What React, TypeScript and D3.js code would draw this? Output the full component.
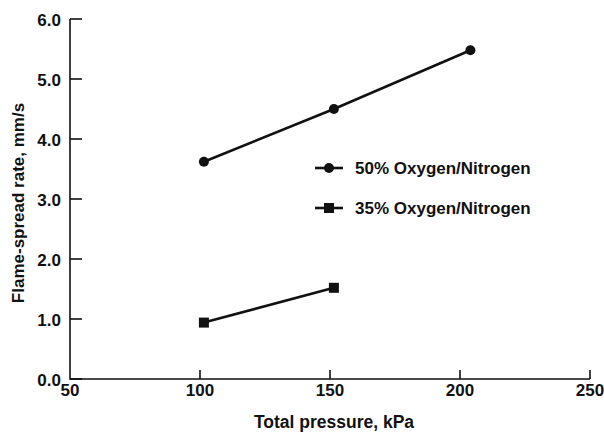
import * as d3 from "d3";
import { useEffect, useRef } from "react";

// Flame-spread rate vs total pressure
const pressure50 = [101.5, 151.5, 204];
const rate50 = [3.62, 4.5, 5.48];
const pressure35 = [101.5, 151.5];
const rate35 = [0.94, 1.52];

const seriesNames = ["50% Oxygen/Nitrogen", "35% Oxygen/Nitrogen"];
const xTicks = [50, 100, 150, 200, 250];
const yTicks = [0, 1, 2, 3, 4, 5, 6];

const width = 604;
const height = 435;
const font = "'Liberation Sans', Arial, sans-serif";

const App = () => {
  const ref = useRef<SVGSVGElement | null>(null);

  useEffect(() => {
    if (!ref.current) return;
    const svg = d3.select(ref.current);
    svg.selectAll("*").remove();

    const x = d3.scaleLinear().domain([50, 250]).range([70, 590]);
    const y = d3.scaleLinear().domain([0, 6]).range([379, 19]);

    const g = svg.append("g").attr("font-family", font).attr("font-weight", "bold");

    // axes frame (left + bottom)
    g.append("path")
      .attr("d", `M${x(50)},${y(6)}V${y(0)}H${x(250)}`)
      .attr("fill", "none")
      .attr("stroke", "#111")
      .attr("stroke-width", 1.6);

    // y ticks point inward
    g.selectAll("line.yt")
      .data(yTicks)
      .join("line")
      .attr("class", "yt")
      .attr("x1", x(50))
      .attr("x2", x(50) + 12)
      .attr("y1", (d) => y(d))
      .attr("y2", (d) => y(d))
      .attr("stroke", "#111")
      .attr("stroke-width", 1.6);

    g.selectAll("text.yl")
      .data(yTicks)
      .join("text")
      .attr("class", "yl")
      .attr("x", x(50) - 9)
      .attr("y", (d) => y(d) + 6.5)
      .attr("text-anchor", "end")
      .attr("font-size", 17)
      .attr("fill", "#111")
      .text((d) => d3.format(".1f")(d));

    g.selectAll("line.xt")
      .data(xTicks.slice(1))
      .join("line")
      .attr("class", "xt")
      .attr("x1", (d) => x(d))
      .attr("x2", (d) => x(d))
      .attr("y1", y(0))
      .attr("y2", y(0) - 9)
      .attr("stroke", "#111")
      .attr("stroke-width", 1.6);

    g.selectAll("text.xl")
      .data(xTicks)
      .join("text")
      .attr("class", "xl")
      .attr("x", (d) => x(d))
      .attr("y", 396)
      .attr("text-anchor", "middle")
      .attr("font-size", 17)
      .attr("fill", "#111")
      .text((d) => d);

    g.append("text")
      .attr("x", 334)
      .attr("y", 428)
      .attr("text-anchor", "middle")
      .attr("font-size", 17.5)
      .attr("fill", "#111")
      .text("Total pressure, kPa");

    g.append("text")
      .attr("transform", "translate(24,203) rotate(-90)")
      .attr("text-anchor", "middle")
      .attr("font-size", 17)
      .attr("fill", "#111")
      .text("Flame-spread rate, mm/s");

    const line = d3
      .line<[number, number]>()
      .x((d) => x(d[0]))
      .y((d) => y(d[1]));

    const d50 = pressure50.map((p, i) => [p, rate50[i]] as [number, number]);
    const d35 = pressure35.map((p, i) => [p, rate35[i]] as [number, number]);

    [d50, d35].forEach((data) => {
      g.append("path")
        .attr("d", line(data))
        .attr("fill", "none")
        .attr("stroke", "#111")
        .attr("stroke-width", 2.6);
    });

    g.selectAll("circle.p50")
      .data(d50)
      .join("circle")
      .attr("class", "p50")
      .attr("cx", (d) => x(d[0]))
      .attr("cy", (d) => y(d[1]))
      .attr("r", 5)
      .attr("fill", "#111");

    g.selectAll("rect.p35")
      .data(d35)
      .join("rect")
      .attr("class", "p35")
      .attr("x", (d) => x(d[0]) - 5)
      .attr("y", (d) => y(d[1]) - 5)
      .attr("width", 10)
      .attr("height", 10)
      .attr("fill", "#111");

    // legend
    const legend = g.append("g");
    seriesNames.forEach((name, i) => {
      const ly = 168 + i * 40;
      legend
        .append("line")
        .attr("x1", 315)
        .attr("x2", 343)
        .attr("y1", ly)
        .attr("y2", ly)
        .attr("stroke", "#111")
        .attr("stroke-width", 2.6);
      if (i === 0) {
        legend.append("circle").attr("cx", 329).attr("cy", ly).attr("r", 5).attr("fill", "#111");
      } else {
        legend
          .append("rect")
          .attr("x", 324)
          .attr("y", ly - 5)
          .attr("width", 10)
          .attr("height", 10)
          .attr("fill", "#111");
      }
      legend
        .append("text")
        .attr("x", 355)
        .attr("y", ly + 6)
        .attr("font-size", 17)
        .attr("fill", "#111")
        .text(name);
    });
  }, []);

  return (
    <svg
      ref={ref}
      width={width}
      height={height}
      style={{ position: "absolute", left: 0, top: 0, background: "#fff" }}
    />
  );
};

export default App;
